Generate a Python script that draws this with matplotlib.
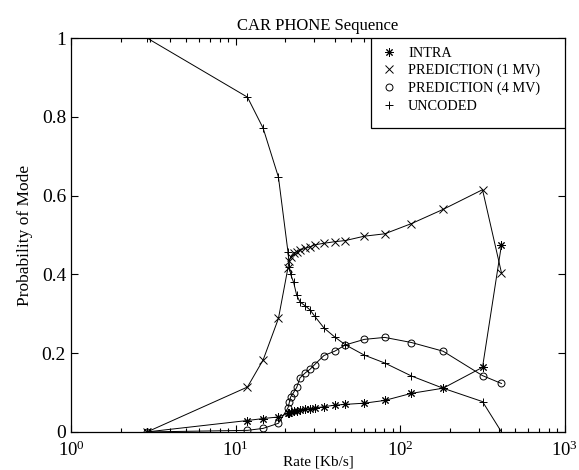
import matplotlib

matplotlib.use("Agg")
import matplotlib.pyplot as plt
from matplotlib.lines import Line2D
from matplotlib.patches import Rectangle

# rate points (Kb/s), shared by all four modes
rate = [2.9, 11.8, 14.7, 18.2, 20.8, 21.2, 21.6, 22.5, 23.5, 24.6, 26.5, 28.3,
        30.2, 34.4, 40.0, 46.5, 60.5, 80.5, 117, 182, 316, 412]
intra = [0, .029, .034, .038, .047, .049, .050, .052, .054, .056, .058, .059,
         .061, .064, .068, .070, .073, .080, .098, .111, .164, .475]
pred_1mv = [0, .114, .183, .288, .417, .435, .445, .455, .457, .462, .466, .470,
            .475, .479, .483, .486, .497, .503, .529, .565, .615, .404]
pred_4mv = [0, .004, .009, .022, .061, .075, .089, .100, .113, .137, .150, .159,
            .171, .194, .205, .221, .235, .240, .227, .205, .143, .123]
uncoded = [1, .850, .771, .647, .457, .420, .400, .380, .347, .330, .320, .310,
           .294, .264, .241, .221, .195, .175, .142, .111, .077, 0]

labels = ["INTRA", "PREDICTION (1 MV)", "PREDICTION (4 MV)", "UNCODED"]
series = [intra, pred_1mv, pred_4mv, uncoded]
markers = [(8, 2, 0), "x", "o", "+"]
msizes = [6, 5.5, 5, 6]

plt.rcParams["font.family"] = ["Liberation Serif", "DejaVu Serif"]
plt.rcParams["mathtext.fontset"] = "stix"
plt.rcParams["xtick.direction"] = "in"
plt.rcParams["ytick.direction"] = "in"

fig = plt.figure(figsize=(5.79, 4.70), dpi=100)
ax = fig.add_axes([0.1226, 0.081, 0.853, 0.838])

for vals, mk, ms in zip(series, markers, msizes):
    ax.plot(rate, vals, color="k", lw=0.7, marker=mk, ms=ms,
            mfc="none", mec="k", mew=0.7)

ax.set_xscale("log")
ax.set_xlim(1, 1000)
ax.set_ylim(0, 1)
ax.set_yticks([0, 0.2, 0.4, 0.6, 0.8, 1])
ax.set_yticklabels(["0", "0.2", "0.4", "0.6", "0.8", "1"])
ax.tick_params(which="both", top=True, right=True, labelsize=14, width=0.8)
ax.tick_params(axis="x", labelsize=13.5, pad=6.5)
ax.tick_params(which="major", length=5)
ax.tick_params(which="minor", length=3)
for s in ax.spines.values():
    s.set_linewidth(0.9)

ax.set_title("CAR PHONE Sequence", fontsize=12, pad=6)
ax.set_xlabel("Rate [Kb/s]", fontsize=11)
ax.xaxis.set_label_coords(0.5, -0.059)
ax.set_ylabel("Probability of Mode", fontsize=12.5, labelpad=6)

# MATLAB-style legend box: wide, markers only
box = Rectangle((0.607, 0.772), 0.393, 0.228, transform=ax.transAxes,
                facecolor="white", edgecolor="k", lw=0.9, zorder=4)
ax.add_patch(box)
handles = [Line2D([], [], ls="none", marker=mk, ms=ms, color="k",
                  mfc="none", mew=0.7) for mk, ms in zip(markers, msizes)]
leg = ax.legend(handles, labels, loc="upper left", bbox_to_anchor=(0.613, 1.0),
                fontsize=10.3, frameon=False, borderaxespad=0,
                handlelength=1.0, handletextpad=0.8, borderpad=0.6,
                labelspacing=0.3)
leg.set_zorder(5)

fig.savefig("out.png", dpi=100)
